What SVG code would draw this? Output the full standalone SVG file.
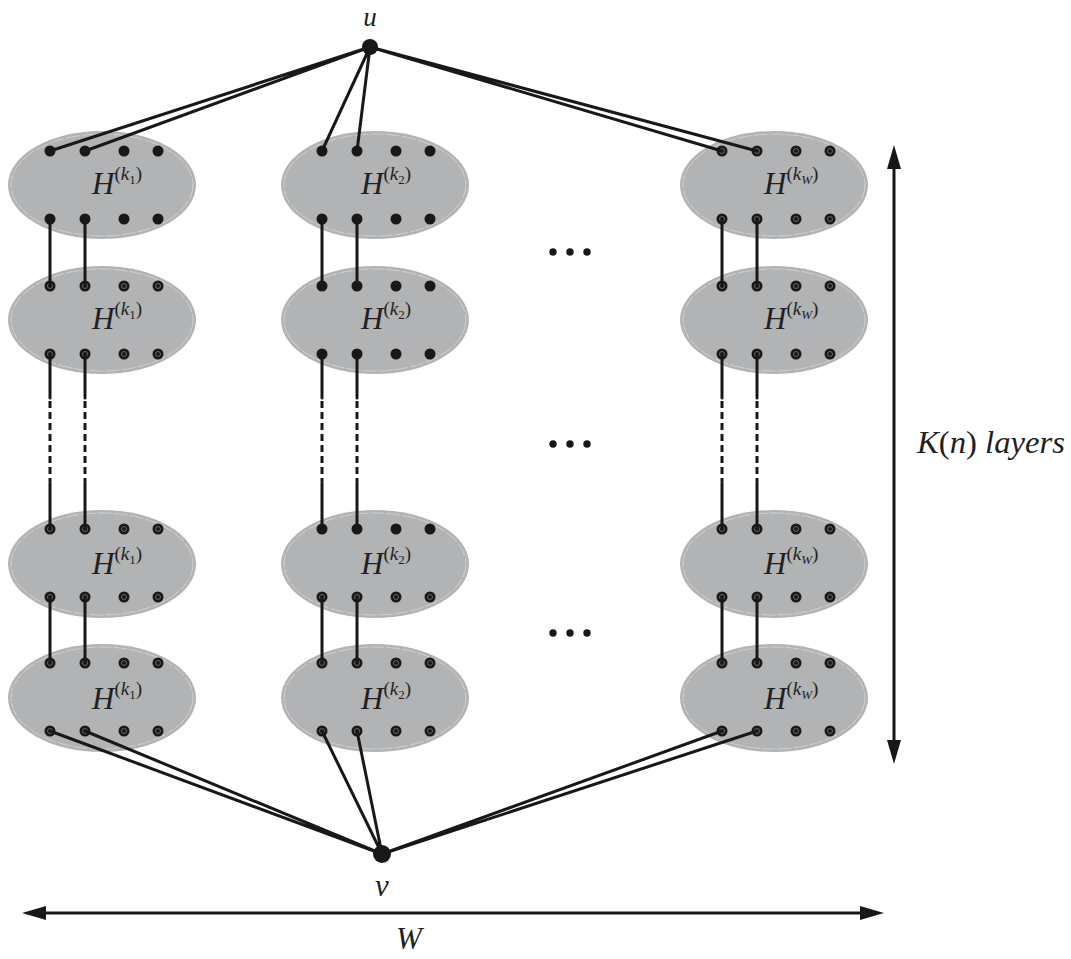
<svg xmlns="http://www.w3.org/2000/svg" width="1071" height="959" viewBox="0 0 1071 959">
<style>
.ell{fill:#b2b3b5;}
.ein{fill:none;stroke:#cfd0d2;stroke-width:1;stroke-dasharray:14 2;}
.d{fill:#1a1718;}
.r{fill:none;stroke:#7a7a7a;stroke-width:0.8;}
.H{font-family:"Liberation Serif",serif;font-style:italic;font-size:31px;fill:#231f20;}
.p{font-style:normal;font-size:19px;}
.k{font-style:italic;font-size:19px;}
.s{font-style:normal;font-size:13px;}
.sw{font-style:italic;font-size:13px;}
.m{font-family:"Liberation Serif",serif;font-style:italic;font-size:31px;fill:#231f20;}
.up{font-style:normal;}
.c{stroke:#1a1718;stroke-width:3;fill:none;stroke-linecap:round;}
.dash{stroke:#1a1718;stroke-width:3;fill:none;stroke-dasharray:7 4;}
.ax{stroke:#1a1718;stroke-width:3;fill:none;}
</style>
<defs>
<marker id="ah" markerUnits="userSpaceOnUse" markerWidth="26" markerHeight="16" refX="2" refY="8" orient="auto-start-reverse" viewBox="0 0 26 16">
<path d="M0,1 L24,8 L0,15 Z" fill="#1a1718"/>
</marker>
<g id="dots4">
<circle class="d" cx="0" cy="0" r="5.5"/>
<circle class="d" cx="35" cy="0" r="5.5"/>
<circle class="d" cx="74" cy="0" r="5.5"/>
<circle class="d" cx="108" cy="0" r="5.5"/>
</g>
<g id="rings4">
<circle class="r" cx="0" cy="0" r="2.5"/>
<circle class="r" cx="35" cy="0" r="2.5"/>
<circle class="r" cx="74" cy="0" r="2.5"/>
<circle class="r" cx="108" cy="0" r="2.5"/>
</g>
</defs>
<rect width="1071" height="959" fill="#ffffff"/>

<!-- column 1 -->
<g id="c1r1">
<ellipse class="ell" cx="102" cy="185" rx="94" ry="54"/><ellipse class="ein" cx="102" cy="185" rx="91" ry="51"/>
<text class="H" x="92" y="194">H<tspan class="p" dy="-14">(</tspan><tspan class="k">k</tspan><tspan class="s" dy="4">1</tspan><tspan class="p" dy="-4">)</tspan></text>
<use href="#dots4" x="50" y="151"/><use href="#dots4" x="50" y="219"/>
</g>
<g id="c1r2">
<ellipse class="ell" cx="102" cy="320" rx="94" ry="54"/><ellipse class="ein" cx="102" cy="320" rx="91" ry="51"/>
<text class="H" x="92" y="329">H<tspan class="p" dy="-14">(</tspan><tspan class="k">k</tspan><tspan class="s" dy="4">1</tspan><tspan class="p" dy="-4">)</tspan></text>
<use href="#dots4" x="50" y="286"/><use href="#dots4" x="50" y="354"/>
<use href="#rings4" x="50" y="286"/><use href="#rings4" x="50" y="354"/>
</g>
<g id="c1r3">
<ellipse class="ell" cx="102" cy="564" rx="94" ry="54"/><ellipse class="ein" cx="102" cy="564" rx="91" ry="51"/>
<text class="H" x="92" y="574">H<tspan class="p" dy="-14">(</tspan><tspan class="k">k</tspan><tspan class="s" dy="4">1</tspan><tspan class="p" dy="-4">)</tspan></text>
<use href="#dots4" x="50" y="529"/><use href="#dots4" x="50" y="597"/>
<use href="#rings4" x="50" y="529"/><use href="#rings4" x="50" y="597"/>
</g>
<g id="c1r4">
<ellipse class="ell" cx="102" cy="698" rx="94" ry="54"/><ellipse class="ein" cx="102" cy="698" rx="91" ry="51"/>
<text class="H" x="92" y="709">H<tspan class="p" dy="-14">(</tspan><tspan class="k">k</tspan><tspan class="s" dy="4">1</tspan><tspan class="p" dy="-4">)</tspan></text>
<use href="#dots4" x="50" y="663"/><use href="#dots4" x="50" y="731"/>
<use href="#rings4" x="50" y="663"/><use href="#rings4" x="50" y="731"/>
</g>

<!-- column 2 -->
<g id="c2r1">
<ellipse class="ell" cx="375" cy="185" rx="94" ry="54"/><ellipse class="ein" cx="375" cy="185" rx="91" ry="51"/>
<text class="H" x="361" y="194">H<tspan class="p" dy="-14">(</tspan><tspan class="k">k</tspan><tspan class="s" dy="4">2</tspan><tspan class="p" dy="-4">)</tspan></text>
<use href="#dots4" x="322" y="151"/><use href="#dots4" x="322" y="219"/>
</g>
<g id="c2r2">
<ellipse class="ell" cx="375" cy="320" rx="94" ry="54"/><ellipse class="ein" cx="375" cy="320" rx="91" ry="51"/>
<text class="H" x="361" y="329">H<tspan class="p" dy="-14">(</tspan><tspan class="k">k</tspan><tspan class="s" dy="4">2</tspan><tspan class="p" dy="-4">)</tspan></text>
<use href="#dots4" x="322" y="286"/><use href="#dots4" x="322" y="354"/>
</g>
<g id="c2r3">
<ellipse class="ell" cx="375" cy="564" rx="94" ry="54"/><ellipse class="ein" cx="375" cy="564" rx="91" ry="51"/>
<text class="H" x="361" y="574">H<tspan class="p" dy="-14">(</tspan><tspan class="k">k</tspan><tspan class="s" dy="4">2</tspan><tspan class="p" dy="-4">)</tspan></text>
<use href="#dots4" x="322" y="529"/><use href="#dots4" x="322" y="597"/>
<use href="#rings4" x="322" y="597"/>
</g>
<g id="c2r4">
<ellipse class="ell" cx="375" cy="698" rx="94" ry="54"/><ellipse class="ein" cx="375" cy="698" rx="91" ry="51"/>
<text class="H" x="361" y="709">H<tspan class="p" dy="-14">(</tspan><tspan class="k">k</tspan><tspan class="s" dy="4">2</tspan><tspan class="p" dy="-4">)</tspan></text>
<use href="#dots4" x="322" y="663"/><use href="#dots4" x="322" y="731"/>
<use href="#rings4" x="322" y="663"/><use href="#rings4" x="322" y="731"/>
</g>

<!-- column W -->
<g id="cWr1">
<ellipse class="ell" cx="774" cy="185" rx="94" ry="54"/><ellipse class="ein" cx="774" cy="185" rx="91" ry="51"/>
<text class="H" x="764" y="194">H<tspan class="p" dy="-14">(</tspan><tspan class="k">k</tspan><tspan class="sw" dy="4">W</tspan><tspan class="p" dy="-4">)</tspan></text>
<use href="#dots4" x="722" y="151"/><use href="#dots4" x="722" y="219"/>
<use href="#rings4" x="722" y="151"/><use href="#rings4" x="722" y="219"/>
</g>
<g id="cWr2">
<ellipse class="ell" cx="774" cy="320" rx="94" ry="54"/><ellipse class="ein" cx="774" cy="320" rx="91" ry="51"/>
<text class="H" x="764" y="329">H<tspan class="p" dy="-14">(</tspan><tspan class="k">k</tspan><tspan class="sw" dy="4">W</tspan><tspan class="p" dy="-4">)</tspan></text>
<use href="#dots4" x="722" y="286"/><use href="#dots4" x="722" y="354"/>
<use href="#rings4" x="722" y="286"/><use href="#rings4" x="722" y="354"/>
</g>
<g id="cWr3">
<ellipse class="ell" cx="774" cy="564" rx="94" ry="54"/><ellipse class="ein" cx="774" cy="564" rx="91" ry="51"/>
<text class="H" x="764" y="574">H<tspan class="p" dy="-14">(</tspan><tspan class="k">k</tspan><tspan class="sw" dy="4">W</tspan><tspan class="p" dy="-4">)</tspan></text>
<use href="#dots4" x="722" y="529"/><use href="#dots4" x="722" y="597"/>
<use href="#rings4" x="722" y="529"/><use href="#rings4" x="722" y="597"/>
</g>
<g id="cWr4">
<ellipse class="ell" cx="774" cy="698" rx="94" ry="54"/><ellipse class="ein" cx="774" cy="698" rx="91" ry="51"/>
<text class="H" x="764" y="709">H<tspan class="p" dy="-14">(</tspan><tspan class="k">k</tspan><tspan class="sw" dy="4">W</tspan><tspan class="p" dy="-4">)</tspan></text>
<use href="#dots4" x="722" y="663"/><use href="#dots4" x="722" y="731"/>
<use href="#rings4" x="722" y="663"/><use href="#rings4" x="722" y="731"/>
</g>

<!-- connectors -->
<g id="connectors">
<path class="c" d="M370,47 L50,151 M370,47 L85,151 M370,47 L322,151 M370,47 L357,151 M370,47 L722,151 M370,47 L757,151"/>
<path class="c" d="M382,854 L50,731 M382,854 L85,731 M382,854 L322,731 M382,854 L357,731 M382,854 L722,731 M382,854 L757,731"/>
<path class="c" d="M50,219 V286 M85,219 V286 M322,219 V286 M357,219 V286 M722,219 V286 M757,219 V286"/>
<path class="c" d="M50,597 V663 M85,597 V663 M322,597 V663 M357,597 V663 M722,597 V663 M757,597 V663"/>
<path class="c" d="M50,354 V398 M85,354 V398 M322,354 V398 M357,354 V398 M722,354 V398 M757,354 V398"/>
<path class="c" d="M50,483 V529 M85,483 V529 M322,483 V529 M357,483 V529 M722,483 V529 M757,483 V529"/>
<path class="dash" d="M50,401 V482 M85,401 V482 M322,401 V482 M357,401 V482 M722,401 V482 M757,401 V482"/>
</g>

<!-- terminals -->
<g id="u">
<circle class="d" cx="370" cy="47" r="8"/>
<text class="m" x="370" y="26" text-anchor="middle" style="font-size:27px">u</text>
</g>
<g id="v">
<circle class="d" cx="382" cy="854" r="9"/>
<text class="m" x="382" y="896" text-anchor="middle">v</text>
</g>

<!-- ellipsis dots -->
<g id="ellipses">
<circle class="d" cx="553" cy="252" r="3.7"/><circle class="d" cx="570" cy="252" r="3.7"/><circle class="d" cx="587" cy="252" r="3.7"/>
<circle class="d" cx="553" cy="444" r="3.7"/><circle class="d" cx="570" cy="444" r="3.7"/><circle class="d" cx="587" cy="444" r="3.7"/>
<circle class="d" cx="553" cy="633" r="3.7"/><circle class="d" cx="570" cy="633" r="3.7"/><circle class="d" cx="587" cy="633" r="3.7"/>
</g>

<!-- axes -->
<g id="axis-K">
<line class="ax" x1="894" y1="167" x2="894" y2="742" marker-start="url(#ah)" marker-end="url(#ah)"/>
<text class="m" x="917" y="453" textLength="148" lengthAdjust="spacingAndGlyphs">K<tspan class="up">(</tspan>n<tspan class="up">)</tspan> layers</text>
</g>
<g id="axis-W">
<line class="ax" x1="44" y1="913" x2="862" y2="913" marker-start="url(#ah)" marker-end="url(#ah)"/>
<text class="m" x="409" y="949" text-anchor="middle">W</text>
</g>
</svg>
